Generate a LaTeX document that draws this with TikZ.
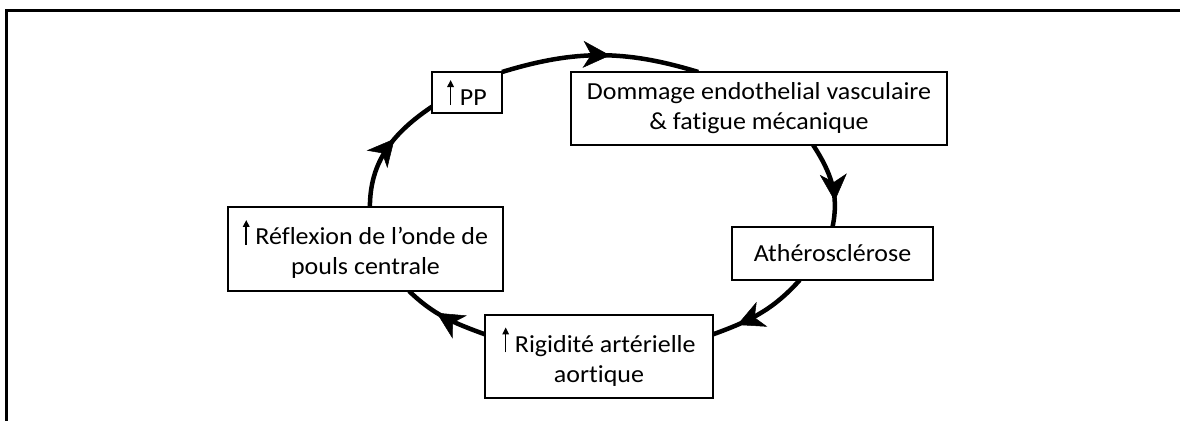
\documentclass[tikz,border=0pt]{standalone}
\usepackage{fontspec}
\setmainfont{Carlito}[FakeStretch=1.06,Ligatures=NoCommon]
\usetikzlibrary{arrows.meta,decorations.markings,backgrounds}
\newcommand{\uparr}{\tikz[baseline=0pt]\draw[line width=1.6pt,-{Triangle[length=7pt,width=6.5pt]}] (0pt,0pt) -- (0pt,25pt);\hspace{6pt}}
\begin{document}
\begin{tikzpicture}[x=1pt,y=1pt,
  box/.style={draw, line width=2pt, fill=white, inner sep=0pt, outer sep=0pt, align=center, font=\fontsize{24.5}{30}\selectfont},
  cyc/.style={line width=4.5pt, postaction={decorate}, decoration={markings, mark=at position #1 with {\arrow{Stealth[length=27pt,width=27pt,inset=8pt,line width=0.5pt]}}}}]
\useasboundingbox (0,0) rectangle (1180,-421);
\draw[line width=2.6pt] (1180,-10.5) -- (6.5,-10.5) -- (6.5,-421);
\node[box, minimum width=70pt, minimum height=41pt] (pp) at (467,-92.5) {\uparr PP};
\node[box, minimum width=376pt, minimum height=73pt] (dom) at (759,-108.5) {Dommage endothelial vasculaire\\\& fatigue mécanique};
\node[box, minimum width=201pt, minimum height=53pt] (ath) at (832.5,-253.5) {Athérosclérose};
\node[box, minimum width=228pt, minimum height=83pt] (rig) at (599,-356.5) {\uparr Rigidité artérielle\\aortique};
\node[box, minimum width=275pt, minimum height=84pt] (refl) at (365.5,-249) {\uparr Réflexion de l’onde de\\pouls centrale};
\begin{scope}[on background layer]
\draw[cyc=0.55] (pp.north east) to[out=17,in=163] (dom.149.5);
\draw[cyc=0.7] (dom.-34) to[out=-57,in=78] (ath.north);
\draw[cyc=0.75] (ath.219.2) to[out=228,in=20] (rig.11.6);
\draw[cyc=0.6] (rig.169.3) to[out=160,in=-44] (refl.-44.7);
\draw[cyc=0.6] (refl.84) to[out=90,in=214] (pp.202.5);
\end{scope}
\end{tikzpicture}
\end{document}
